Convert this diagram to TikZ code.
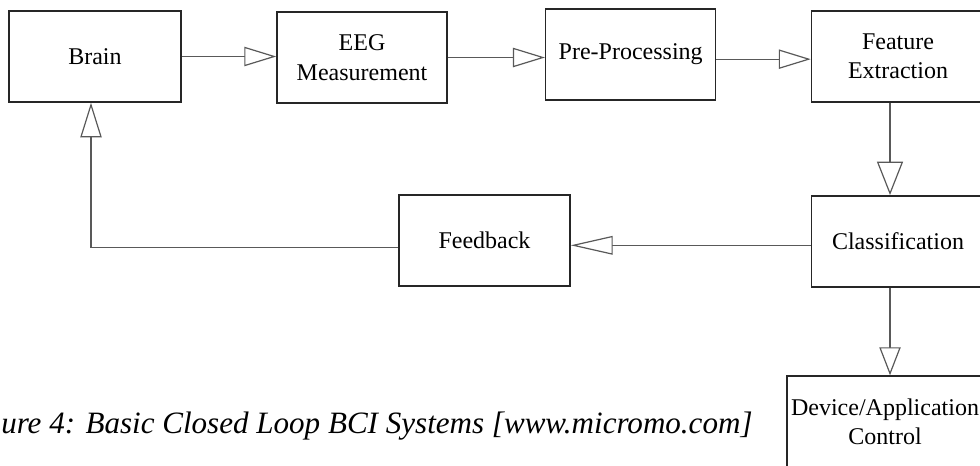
\documentclass[tikz,border=0pt]{standalone}
\usepackage{fontspec}
\setmainfont{Liberation Serif}
\usetikzlibrary{arrows.meta}
\tikzset{
  block/.style={draw=black!85, line width=1.1pt, align=center,
    minimum width=127.5pt, minimum height=68.25pt,
    font=\fontsize{18}{22}\selectfont},
  flow/.style={draw=black!65, line width=0.9pt,
    -{Triangle[open, length=24pt, width=14.5pt, fill=white]}}
}

\begin{document}
\begin{tikzpicture}[x=0.75pt, y=-0.75pt]
			%%%%% FRAME %%%%%
			\useasboundingbox (0,0) rectangle (980,465);
			\clip (0,0) rectangle (980,465);
			
			%%%%% TOP ROW %%%%%
			\node[block, minimum width=129pt] (brain) at (95,56.5) {Brain};
			\node[block] (eeg) at (362,57.5) {EEG\\Measurement};
			\node[block] (prep) at (630.7,54.5) {Pre-Processing};
			\node[block, minimum width=129.75pt] (feat) at (898,56.5) {Feature\\Extraction};
			
			%%%%% LOWER PART %%%%%
			\node[block, minimum width=129.75pt] (classif) at (898,241.3) {Classification};
			\node[block, minimum width=128.25pt] (feedb) at (484.5,240.5) {Feedback};
			\node[block, minimum width=147pt, inner xsep=1pt] (device) at (885,421.5) {Device/Application\\Control};
			
			%%%%% CONNECTORS %%%%%
			\draw[flow] (brain.east) -- (brain.east -| eeg.west);
			\draw[flow] (eeg.east) -- (eeg.east -| prep.west);
			\draw[flow] ([yshift=-3.5pt]prep.east) -- ([yshift=-3.5pt]prep.east -| feat.west);
			\draw[flow, -{Triangle[open, length=25pt, width=19.5pt, fill=white]}] ([xshift=3.75pt]feat.south -| device.north) -- ([xshift=3.75pt]classif.north -| device.north);
			\draw[flow, -{Triangle[open, length=21pt, width=16pt, fill=white]}] ([xshift=3.75pt]classif.south -| device.north) -- ([xshift=3.75pt]device.north);
			\draw[flow, -{Triangle[open, length=31.5pt, width=14pt, fill=white]}] ([yshift=-3pt]classif.west) -- ([yshift=-3pt]classif.west -| feedb.east);
			\draw[flow, -{Triangle[open, length=26pt, width=16pt, fill=white]}] ([yshift=-5.5pt]feedb.west) -| ([xshift=-3pt]brain.south);
			
			%%%%% CAPTION %%%%%
			\node[anchor=base west, inner sep=0pt, font=\itshape\fontsize{23.3}{27}\selectfont] (caption) at (1,433) {ure 4: Basic Closed Loop BCI Systems [www.micromo.com]};
\end{tikzpicture}
\end{document}
